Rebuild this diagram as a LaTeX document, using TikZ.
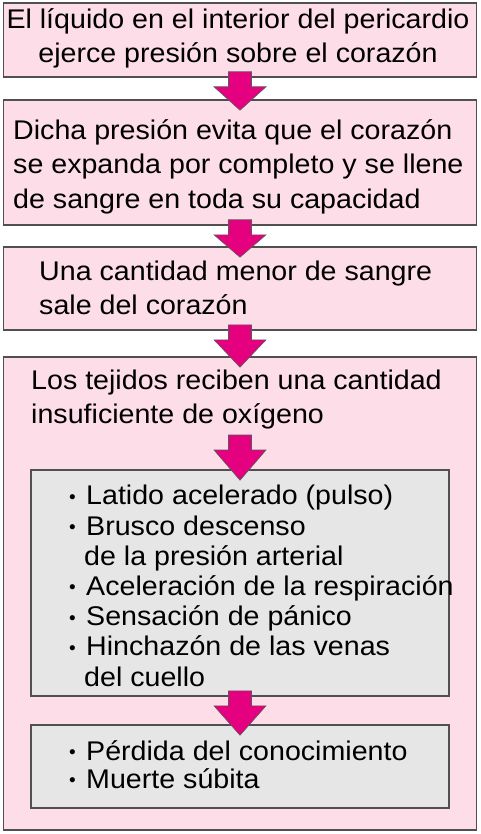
\documentclass[tikz,border=0pt]{standalone}
\usepackage{fontspec}
\setmainfont{Liberation Sans}[FakeStretch=1.06]
\newfontfamily\bulletfont{Liberation Sans}
\usetikzlibrary{calc}
\definecolor{pinkfill}{HTML}{FDDDE8}
\definecolor{grayfill}{HTML}{E6E6E6}
\definecolor{edgegray}{HTML}{505050}
\definecolor{magenta}{HTML}{E4007E}
\newcommand\barr[2]{%
  \draw[barrow] ($#1+(-11.5,-6)$) -- ($#1+(11.5,-6)$) -- ($#1+(11.5,9)$)
    -- ($#1+(26,9)$) -- ($#2+(0,11)$) -- ($#1+(-26,9)$) -- ($#1+(-11.5,9)$) -- cycle;}
\newcommand\bul{\makebox[17pt][l]{{\bulletfont\fontsize{19}{19}\selectfont\raisebox{1.5pt}{•}}}}
\newcommand\cont{\hspace{15pt}}
\begin{document}
\begin{tikzpicture}[x=1pt,y=-1pt,
  pinkbox/.style={draw=edgegray,line width=1.6pt,fill=pinkfill,rectangle,inner sep=0pt},
  graybox/.style={draw=edgegray,line width=1.6pt,fill=grayfill,rectangle,inner sep=0pt},
  barrow/.style={draw=black!65,line width=0.6pt,fill=magenta},
  txt/.style={inner sep=0pt,font=\fontsize{27}{34}\selectfont},
  ltxt/.style={txt,align=left,anchor=base west},
  ctxt/.style={txt,align=center,anchor=base},
  lst/.style={inner sep=0pt,align=left,anchor=base west,font=\fontsize{27}{30.2}\selectfont},
]
\useasboundingbox (0,0) rectangle (480,834);
\fill[white] (0,0) rectangle (480,834);
% boxes
\node[pinkbox,minimum width=473pt,minimum height=74pt] (b1) at (240,40) {};
\node[pinkbox,minimum width=473pt,minimum height=125pt] (b2) at (240,162.5) {};
\node[pinkbox,minimum width=473pt,minimum height=83pt] (b3) at (240,288.5) {};
\node[pinkbox,minimum width=473pt,minimum height=473pt] (b4) at (240,593.5) {};
\node[graybox,minimum width=418pt,minimum height=226pt] (g1) at (240,583) {};
\node[graybox,minimum width=418pt,minimum height=83pt] (g2) at (240,766.5) {};
% texts
\node[ctxt] (t1) at (238,63) {El líquido en el interior del pericardio\\ejerce presión sobre el corazón};
\node[ltxt] (t2) at (13,208) {Dicha presión evita que el corazón\\se expanda por completo y se llene\\de sangre en toda su capacidad};
\node[ltxt] (t3) at (39,314) {Una cantidad menor de sangre\\sale del corazón};
\node[ltxt] (t4) at (31,423) {Los tejidos reciben una cantidad\\insuficiente de oxígeno};
\node[lst] (l1) at (69,686) {\bul Latido acelerado (pulso)\\\bul Brusco descenso\\\cont de la presión arterial\\\bul Aceleración de la respiración\\\bul Sensación de pánico\\\bul Hinchazón de las venas\\\cont del cuello};
\node[lst,font=\fontsize{27}{28}\selectfont] (l2) at (69,788) {\bul Pérdida del conocimiento\\\bul Muerte súbita};
\coordinate (a4) at (240,441);
% arrows
\barr{(b1.south)}{(b2.north)}
\barr{(b2.south)}{(b3.north)}
\barr{(b3.south)}{(b4.north)}
\barr{(a4)}{(g1.north)}
\barr{(g1.south)}{(g2.north)}
\end{tikzpicture}
\end{document}
